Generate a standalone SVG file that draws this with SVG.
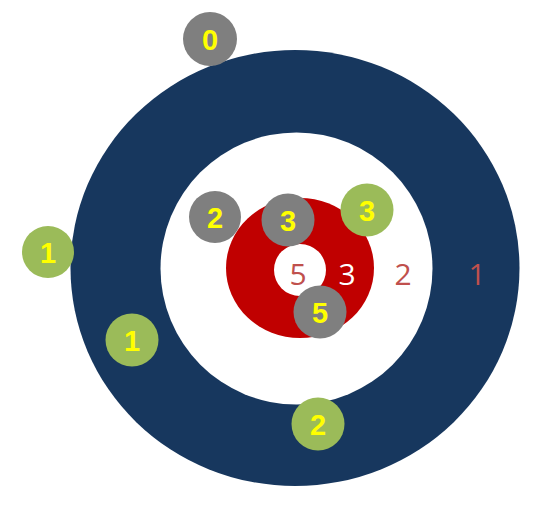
<svg xmlns="http://www.w3.org/2000/svg" width="537" height="515" viewBox="0 0 537 515">
<style>
.gray{fill:#7f7f7f}
.green{fill:#9bbb59}
.st{font-family:"Liberation Sans",Arial,sans-serif;font-weight:bold;font-size:29px;fill:#ffff00;text-anchor:middle}
.ring{font-family:"Open Sans","Liberation Sans",sans-serif;font-size:30px;text-anchor:middle}
</style>
<rect width="537" height="515" fill="#ffffff"/>
<g id="house">
<ellipse cx="295" cy="268" rx="224.5" ry="218" fill="#17375e"/>
<circle cx="296.5" cy="268.5" r="136" fill="#ffffff"/>
<ellipse cx="300" cy="268" rx="74" ry="70" fill="#c00000"/>
<circle cx="300" cy="270" r="26" fill="#ffffff"/>
<text class="ring" x="298" y="285" fill="#c0504d">5</text>
<text class="ring" x="347" y="285" fill="#ffffff">3</text>
<text class="ring" x="403" y="285" fill="#c0504d">2</text>
<text class="ring" x="477" y="285" fill="#c0504d">1</text>
</g>
<g id="connectors"></g>
<g id="stone0"><circle class="gray" cx="210" cy="39" r="27"/><text class="st" x="210" y="49.5">0</text></g>
<g id="stone2gray"><circle class="gray" cx="215" cy="217" r="26"/><text class="st" x="215" y="227.5">2</text></g>
<g id="stone3gray"><circle class="gray" cx="288" cy="220" r="26.5"/><text class="st" x="288" y="230.5">3</text></g>
<g id="stone3green"><circle class="green" cx="367" cy="210" r="26.5"/><text class="st" x="367" y="220.5">3</text></g>
<g id="stone5gray"><circle class="gray" cx="320" cy="312" r="26.5"/><text class="st" x="320" y="322.5">5</text></g>
<g id="stone1left"><circle class="green" cx="48" cy="252" r="26"/><text class="st" x="48" y="262.5">1</text></g>
<g id="stone1lower"><circle class="green" cx="132" cy="340" r="26.5"/><text class="st" x="132" y="350.5">1</text></g>
<g id="stone2green"><circle class="green" cx="318" cy="424" r="26.5"/><text class="st" x="318" y="434.5">2</text></g>
</svg>
